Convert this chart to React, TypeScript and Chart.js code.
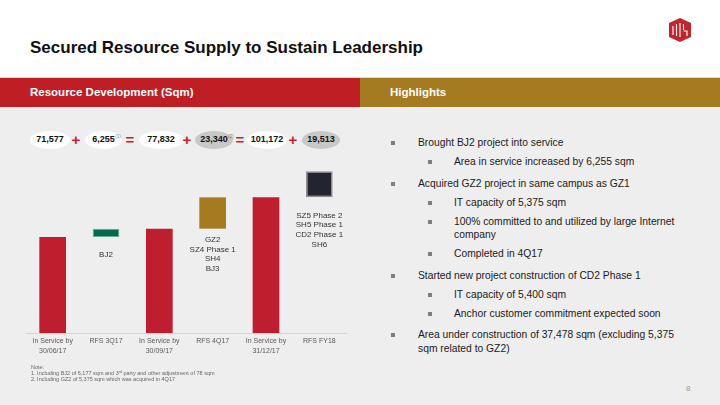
import React, { useEffect, useRef } from "react";
import { Chart, registerables } from "chart.js";
Chart.register(...registerables);

const FONT = "'Liberation Sans', Arial, sans-serif";

// ---- data ----
const categories: string[][] = [
  ["In Service by", "30/06/17"],
  ["RFS 3Q17"],
  ["In Service by", "30/09/17"],
  ["RFS 4Q17"],
  ["In Service by", "31/12/17"],
  ["RFS FY18"],
];
const barStart = [0, 71577, 0, 77832, 0, 101172];
const barEnd = [71577, 77832, 77832, 101172, 101172, 120685];
const projectLabels: string[][] = [
  [],
  ["BJ2"],
  [],
  ["GZ2", "SZ4 Phase 1", "SH4", "BJ3"],
  [],
  ["SZ5 Phase 2", "SH5 Phase 1", "CD2 Phase 1", "SH6"],
];
const bubbleValues = ["71,577", "6,255", "77,832", "23,340", "101,172", "19,513"];
const bubbleNotes = ["", "(1)", "", "(2)", "", ""];
const bubbleSigns = ["+", "=", "+", "=", "+"];

const highlights: { level: number; lines: string[] }[] = [
  { level: 0, lines: ["Brought BJ2 project into service"] },
  { level: 1, lines: ["Area in service increased by 6,255 sqm"] },
  { level: 0, lines: ["Acquired GZ2 project in same campus as GZ1"] },
  { level: 1, lines: ["IT capacity of 5,375 sqm"] },
  { level: 1, lines: ["100% committed to and utilized by large Internet", "company"] },
  { level: 1, lines: ["Completed in 4Q17"] },
  { level: 0, lines: ["Started new project construction of CD2 Phase 1"] },
  { level: 1, lines: ["IT capacity of 5,400 sqm"] },
  { level: 1, lines: ["Anchor customer commitment expected soon"] },
  { level: 0, lines: ["Area under construction of 37,478 sqm (excluding 5,375", "sqm related to GZ2)"] },
];
const notes = [
  "Note:",
  "1. Including BJ2 of 6,177 sqm and 3rd party and other adjustment of 78 sqm",
  "2. Including GZ2 of 5,375 sqm which was acquired in 4Q17",
];

// ---- styles ----
const barColors = ["#BE1E2D", "#006B4E", "#BE1E2D", "#A47B21", "#BE1E2D", "#22242F"];
const barBorders = ["#BE1E2D", "#6FA893", "#BE1E2D", "#A47B21", "#BE1E2D", "#8E8E8E"];
const barBorderWidths = [0, 1, 0, 0, 0, 1.5];
const labelGaps = [0, 18, 0, 11, 0, 18];
const bubbleCenters = [50, 103.5, 161, 214, 267, 321];
const bubbleWidths = [40, 37, 45, 38, 40, 38];
const bubbleFills = ["#FFFFFF", "#FFFFFF", "#FFFFFF", "#C8C8C8", "#FFFFFF", "#C8C8C8"];
const signCenters = [76, 130, 187, 240, 293];

const labelPlugin = {
  id: "projectLabels",
  afterDatasetsDraw(chart: any) {
    const ctx = chart.ctx;
    const meta = chart.getDatasetMeta(0);
    ctx.save();
    ctx.font = `8px ${FONT}`;
    ctx.fillStyle = "#333333";
    ctx.textAlign = "center";
    ctx.textBaseline = "middle";
    meta.data.forEach((el: any, i: number) => {
      const lines = projectLabels[i];
      if (!lines.length) return;
      const p = el.getProps(["x", "y", "base"], true);
      const bottom = Math.max(p.y, p.base);
      lines.forEach((l, j) => ctx.fillText(l, p.x, bottom + labelGaps[i] + j * 9.7));
    });
    ctx.restore();
  },
};

function WaterfallChart() {
  const ref = useRef<HTMLCanvasElement | null>(null);
  useEffect(() => {
    if (!ref.current) return;
    const chart = new Chart(ref.current, {
      type: "bar",
      data: {
        labels: categories,
        datasets: [
          {
            data: categories.map((_, i) => [barStart[i], barEnd[i]]) as any,
            backgroundColor: barColors,
            borderColor: barBorders,
            borderWidth: barBorderWidths,
            borderSkipped: false,
            barPercentage: 0.5,
            categoryPercentage: 1,
          },
        ],
      },
      options: {
        animation: false,
        responsive: false,
        maintainAspectRatio: false,
        layout: { padding: { left: 6, right: 14, top: 0, bottom: 0 } },
        plugins: { legend: { display: false }, tooltip: { enabled: false } },
        scales: {
          x: {
            grid: { display: false, drawTicks: false },
            border: { display: true, color: "#D4D4D4", width: 1 },
            ticks: {
              color: "#595959",
              font: { family: FONT, size: 7, lineHeight: 1.3 },
              padding: 4,
              maxRotation: 0,
              autoSkip: false,
            },
            afterFit: (s: any) => {
              s.height = 32;
            },
          },
          y: { display: false, min: 0, max: 136500 },
        },
      },
      plugins: [labelPlugin],
    });
    return () => chart.destroy();
  }, []);
  return (
    <canvas
      ref={ref}
      width={340}
      height={215}
      style={{ position: "absolute", left: 20, top: 150, width: 340, height: 215 }}
    />
  );
}

function Logo() {
  return (
    <svg width={24} height={24} viewBox="0 0 24 24" style={{ position: "absolute", left: 668, top: 18 }}>
      <polygon points="12,0 23,5 23,19 12,24 1,19 1,5" fill="#C0272D" />
      <path d="M5 8 V17 M8.5 6 V18 M12 5 V19 M15.5 6 V12 M15.5 13 H19 V18" stroke="#FFFFFF" strokeWidth={1.1} fill="none" />
    </svg>
  );
}

export default function App() {
  return (
    <div
      style={{
        position: "fixed",
        left: 0,
        top: 0,
        width: 720,
        height: 405,
        background: "#EEEEEE",
        fontFamily: FONT,
        overflow: "hidden",
      }}
    >
      <div style={{ position: "absolute", left: 0, top: 0, width: 720, height: 78, background: "#FFFFFF" }} />
      <Logo />
      <div
        style={{
          position: "absolute",
          left: 30,
          top: 38,
          fontSize: 17,
          lineHeight: "20px",
          fontWeight: 700,
          color: "#111111",
          whiteSpace: "nowrap",
        }}
      >
        Secured Resource Supply to Sustain Leadership
      </div>
      <div style={{ position: "absolute", left: 0, top: 77, width: 720, height: 1, background: "#D9D9D9" }} />
      <div style={{ position: "absolute", left: 0, top: 78, width: 360, height: 29, background: "#BE1E24" }} />
      <div style={{ position: "absolute", left: 360, top: 78, width: 360, height: 29, background: "#A47B21" }} />
      <div
        style={{
          position: "absolute",
          left: 30,
          top: 78,
          height: 29,
          lineHeight: "29px",
          fontSize: 11.5,
          fontWeight: 700,
          color: "#FFFFFF",
          whiteSpace: "nowrap",
        }}
      >
        Resource Development (Sqm)
      </div>
      <div
        style={{
          position: "absolute",
          left: 390,
          top: 78,
          height: 29,
          lineHeight: "29px",
          fontSize: 11.5,
          fontWeight: 700,
          color: "#FFFFFF",
          whiteSpace: "nowrap",
        }}
      >
        Highlights
      </div>

      {bubbleValues.map((v, i) => (
        <div
          key={"b" + i}
          style={{
            position: "absolute",
            left: bubbleCenters[i] - bubbleWidths[i] / 2,
            top: 130.5,
            width: bubbleWidths[i],
            height: 18,
            borderRadius: "50%",
            background: bubbleFills[i],
            fontSize: 9,
            fontWeight: 700,
            color: "#111111",
            lineHeight: "17px",
            textAlign: "center",
            whiteSpace: "nowrap",
          }}
        >
          <span style={{ position: "relative" }}>
            {v}
            {bubbleNotes[i] ? (
              <span
                style={{
                  position: "absolute",
                  left: "100%",
                  top: 0,
                  marginLeft: 0.5,
                  fontSize: 4.5,
                  fontWeight: 400,
                  color: "#777777",
                  lineHeight: "6px",
                }}
              >
                {bubbleNotes[i]}
              </span>
            ) : null}
          </span>
        </div>
      ))}
      {bubbleSigns.map((s, i) => (
        <div
          key={"s" + i}
          style={{
            position: "absolute",
            left: signCenters[i] - 8,
            top: 130,
            width: 16,
            height: 20,
            lineHeight: "20px",
            textAlign: "center",
            fontSize: 15,
            fontWeight: 900,
            color: "#C8202F",
          }}
        >
          {s}
        </div>
      ))}

      <WaterfallChart />

      <div style={{ position: "absolute", left: 31, top: 364, fontSize: 5.5, lineHeight: "6px", color: "#666666" }}>
        {notes.map((n, i) => (
          <div key={"n" + i} style={{ whiteSpace: "nowrap" }}>
            {i === 1 ? (
              <>
                1. Including BJ2 of 6,177 sqm and 3<sup style={{ fontSize: 3.5, verticalAlign: "top", lineHeight: "4px" }}>rd</sup> party and
                other adjustment of 78 sqm
              </>
            ) : (
              n
            )}
          </div>
        ))}
      </div>

      <div style={{ position: "absolute", left: 360, top: 136, width: 340 }}>
        {highlights.map((h, i) => (
          <div
            key={"h" + i}
            style={{
              position: "relative",
              marginTop: i === 0 ? 0 : h.level === 0 ? 8 : 5.5,
              paddingLeft: h.level === 0 ? 58 : 94,
              fontSize: 10.3,
              lineHeight: "13.5px",
              color: "#1A1A1A",
              whiteSpace: "nowrap",
            }}
          >
            <span
              style={{
                position: "absolute",
                left: h.level === 0 ? 31 : 68,
                top: 5,
                width: 4,
                height: 4,
                background: "#7F7F7F",
              }}
            />
            {h.lines.map((l, j) => (
              <div key={j}>{l}</div>
            ))}
          </div>
        ))}
      </div>

      <div style={{ position: "absolute", left: 686, top: 384, fontSize: 8, color: "#9A9A9A" }}>8</div>
    </div>
  );
}
